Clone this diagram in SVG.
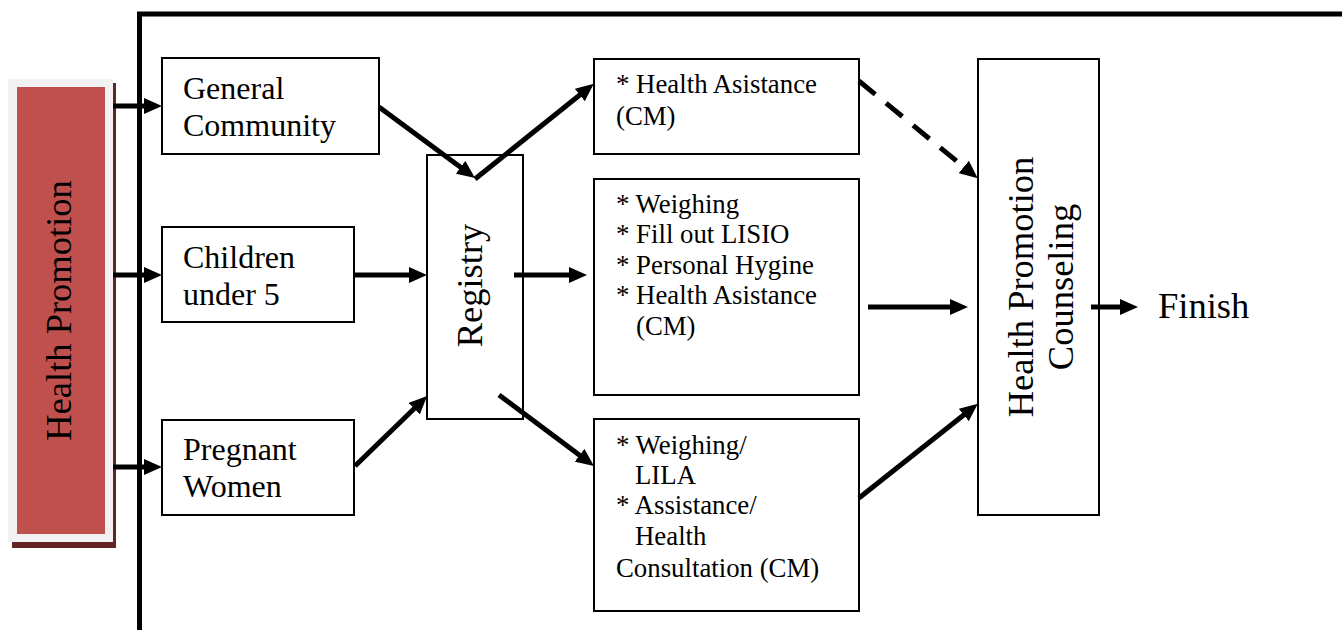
<svg xmlns="http://www.w3.org/2000/svg" width="1342" height="630" viewBox="0 0 1342 630">
<style>
.box{fill:#fff;stroke:#000;stroke-width:2}
.t{font-family:"Liberation Serif","Times New Roman",serif;fill:#000}
.s{font-size:26.8px}
.m{font-size:32px}
.l{font-size:36.5px}
.c{stroke:#000;stroke-width:5;fill:none;marker-end:url(#ah)}
</style>
<defs>
<marker id="ah" markerUnits="userSpaceOnUse" markerWidth="18" markerHeight="16" viewBox="0 0 18 16" refX="8" refY="8" orient="auto">
<path d="M0,0 L18,8 L0,16 z" fill="#000"/>
</marker>
</defs>
<rect width="1342" height="630" fill="#fff"/>
<g id="frame">
<path d="M139.5,630 V14 H1342" fill="none" stroke="#000" stroke-width="5"/>
</g>
<g id="health-promotion">
<rect x="12" y="83" width="104" height="465" fill="#632523"/>
<rect x="8" y="79" width="105" height="463" fill="#f2f2f2"/>
<rect x="17" y="87" width="88" height="447" fill="#c0504d"/>
<text class="t l" transform="translate(71,310.5) rotate(-90)" text-anchor="middle">Health Promotion</text>
</g>
<g id="general-community">
<rect class="box" x="162" y="58" width="217" height="96"/>
<text class="t m" x="183" y="99">General</text>
<text class="t m" x="183" y="136">Community</text>
</g>
<g id="children">
<rect class="box" x="162" y="227" width="192" height="95"/>
<text class="t m" x="183" y="268">Children</text>
<text class="t m" x="183" y="305">under 5</text>
</g>
<g id="pregnant">
<rect class="box" x="162" y="420" width="192" height="95"/>
<text class="t m" x="183" y="460">Pregnant</text>
<text class="t m" x="183" y="497">Women</text>
</g>
<g id="registry">
<rect class="box" x="427" y="155" width="96" height="264"/>
<text class="t l" transform="translate(482,285.5) rotate(-90)" text-anchor="middle">Registry</text>
</g>
<g id="health-asistance">
<rect class="box" x="594" y="59" width="265" height="95"/>
<text class="t s" x="616" y="93">* Health Asistance</text>
<text class="t s" x="616" y="125">(CM)</text>
</g>
<g id="children-services">
<rect class="box" x="594" y="179" width="265" height="216"/>
<text class="t s" x="616" y="213">* Weighing</text>
<text class="t s" x="616" y="243">* Fill out LISIO</text>
<text class="t s" x="616" y="274">* Personal Hygine</text>
<text class="t s" x="616" y="304">* Health Asistance</text>
<text class="t s" x="636" y="335">(CM)</text>
</g>
<g id="pregnant-services">
<rect class="box" x="594" y="419" width="265" height="192"/>
<text class="t s" x="616" y="454">* Weighing/</text>
<text class="t s" x="635" y="484">LILA</text>
<text class="t s" x="616" y="514">* Assistance/</text>
<text class="t s" x="635" y="545">Health</text>
<text class="t s" x="616" y="577">Consultation (CM)</text>
</g>
<g id="counseling">
<rect class="box" x="978" y="59" width="121" height="456"/>
<text class="t l" transform="translate(1033,287) rotate(-90)" text-anchor="middle">Health Promotion</text>
<text class="t l" transform="translate(1073,287) rotate(-90)" text-anchor="middle">Counseling</text>
</g>
<g id="finish">
<text class="t l" x="1158" y="318">Finish</text>
</g>
<g id="connectors">
<line class="c" x1="113" y1="106" x2="152" y2="106"/>
<line class="c" x1="113" y1="275" x2="152" y2="275"/>
<line class="c" x1="113" y1="467" x2="152" y2="467"/>
<line class="c" x1="379" y1="107" x2="467" y2="172"/>
<line class="c" x1="475" y1="179" x2="586" y2="90"/>
<line class="c" x1="354" y1="275" x2="417" y2="275"/>
<line class="c" x1="355" y1="466" x2="420" y2="403"/>
<line class="c" x1="514" y1="275" x2="577" y2="275"/>
<line class="c" x1="499" y1="395" x2="586" y2="460"/>
<line class="c" x1="859" y1="81" x2="970" y2="172" stroke-dasharray="21 14"/>
<line class="c" x1="868" y1="307" x2="958" y2="307"/>
<line class="c" x1="859" y1="498" x2="970" y2="410"/>
<line class="c" x1="1091" y1="307" x2="1128" y2="307"/>
</g>
</svg>
